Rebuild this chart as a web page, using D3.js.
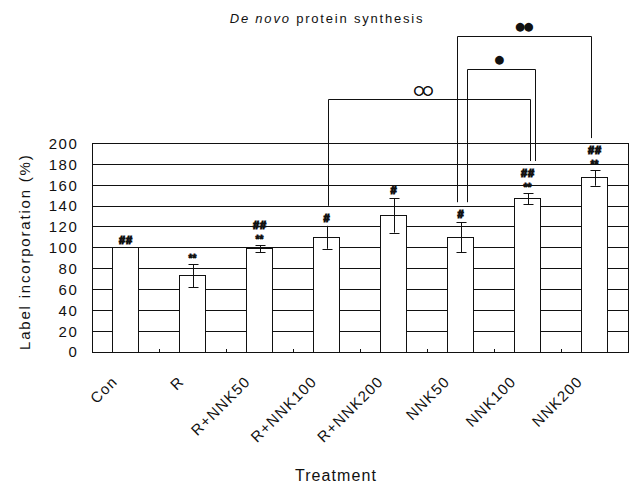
<!DOCTYPE html>
<html><head><meta charset="utf-8">
<script src="https://cdn.jsdelivr.net/npm/d3@7"></script>
<style>body{margin:0;background:#fff} svg{display:block}</style>
</head><body>
<script>
// ---- data ----
const categories = ["Con","R","R+NNK50","R+NNK100","R+NNK200","NNK50","NNK100","NNK200"];
const means      = [100, 73, 99, 110, 131, 110, 147, 167];
const errors     = [0, 11, 3.5, 11, 16.5, 14.5, 5.5, 7.5];
const marksLower = ["", "**", "**", "", "", "", "**", "**"];
const marksUpper = ["##", "", "##", "#", "#", "#", "##", "##"];
const yTicks     = [0,20,40,60,80,100,120,140,160,180,200];
const bracketFrom  = ["R+NNK100", "NNK50", "NNK50"];
const bracketTo    = ["NNK100", "NNK100", "NNK200"];
const bracketLevel = [243, 271, 303];
const bracketLabel = ["○○", "●", "●●"];
const titleItalic = "De novo";
const titleRest = " protein synthesis";
const yTitle = "Label incorporation (%)";
const xTitle = "Treatment";

// ---- layout ----
const W = 631, H = 486;
const L = 92, R = 628, T = 143.5, B = 352;
const font = "'Liberation Sans', Arial, sans-serif";
const ink = "#111";

const svg = d3.select("body").append("svg").attr("width", W).attr("height", H)
  .style("font-family", font);

const x = d3.scaleBand().domain(categories).range([L, R]).paddingInner(0.6).paddingOuter(0.3);
const y = d3.scaleLinear().domain([0, 200]).range([B, T]);
const xLab = d3.scalePoint().domain(categories).range([118.5, 583.5]);
const cx = c => x(c) + x.bandwidth() / 2;

// gridlines
svg.append("g").selectAll("line").data(yTicks.filter(d => d > 0)).join("line")
  .attr("x1", L).attr("x2", R).attr("y1", d => y(d)).attr("y2", d => y(d))
  .attr("stroke", ink).attr("stroke-width", 1).attr("shape-rendering", "crispEdges");
// border
svg.append("rect").attr("x", L).attr("y", y(200)).attr("width", R - L).attr("height", y(0) - y(200))
  .attr("fill", "none").attr("stroke", ink).attr("stroke-width", 1).attr("shape-rendering", "crispEdges");

// x ticks at band boundaries (inside, pointing up)
svg.append("g").selectAll("line").data(categories.slice(1)).join("line")
  .attr("x1", d => x(d) - x.step() * x.paddingInner() / 2).attr("x2", d => x(d) - x.step() * x.paddingInner() / 2)
  .attr("y1", y(0)).attr("y2", y(0) - 3)
  .attr("stroke", ink).attr("shape-rendering", "crispEdges");

// bars
const rows = categories.map((c, i) => ({c, v: means[i], e: errors[i], lo: marksLower[i], up: marksUpper[i]}));
svg.append("g").selectAll("rect").data(rows).join("rect")
  .attr("x", d => x(d.c)).attr("width", x.bandwidth())
  .attr("y", d => y(d.v)).attr("height", d => y(0) - y(d.v))
  .attr("fill", "#fff").attr("stroke", ink).attr("stroke-width", 1).attr("shape-rendering", "crispEdges");

// error bars
const eg = svg.append("g").attr("stroke", ink).attr("stroke-width", 1);
rows.filter(d => d.e > 0).forEach(d => {
  const xc = Math.round(cx(d.c)) + 0.5;
  eg.append("line").attr("x1", xc).attr("x2", xc).attr("y1", y(d.v + d.e)).attr("y2", y(d.v - d.e));
  [d.v + d.e, d.v - d.e].forEach(v => eg.append("line").attr("x1", xc - 5).attr("x2", xc + 5)
    .attr("y1", Math.round(y(v)) + 0.5).attr("y2", Math.round(y(v)) + 0.5));
});

// significance marks
const errTop = d => y(d.v + d.e);
rows.forEach(d => {
  let row = 0;
  const base = errTop(d) - 8;
  if (d.lo) {
    svg.append("text").attr("x", cx(d.c)).attr("y", base + 5.7).attr("text-anchor", "middle")
      .attr("font-size", 10).attr("font-weight", "bold").attr("fill", ink)
      .attr("stroke", ink).attr("stroke-width", 0.8).text(d.lo);
    row++;
  }
  if (d.up) {
    svg.append("text").attr("x", cx(d.c) + 0.5).attr("y", base - row * 12 + 3.9).attr("text-anchor", "middle")
      .attr("font-size", 11).attr("font-weight", "bold").attr("letter-spacing", 1).attr("fill", ink)
      .attr("stroke", ink).attr("stroke-width", 1.1).text(d.up);
  }
  d.nRows = (d.lo ? 1 : 0) + (d.up ? 1 : 0);
});

// brackets
const legShift = [[1, 2], [6, 7.5], [-4, -4]];
const labelShift = [-7, -3, -1];
const byCat = Object.fromEntries(rows.map(d => [d.c, d]));
const legBottom = d => errTop(d) - (8 + 12 * d.nRows);
const bg = svg.append("g").attr("stroke", ink).attr("stroke-width", 1).attr("fill", "none");
bracketFrom.forEach((f, i) => {
  const a = byCat[f], b = byCat[bracketTo[i]];
  const x1 = Math.round(cx(f) + legShift[i][0]) + 0.5, x2 = Math.round(cx(bracketTo[i]) + legShift[i][1]) + 0.5;
  const yl = Math.round(y(bracketLevel[i])) + 0.5;
  bg.append("path").attr("d", `M${x1},${legBottom(a)}V${yl}H${x2}V${legBottom(b)}`);
  const hollow = bracketLabel[i].includes("○");
  svg.append("text").attr("x", (x1 + x2) / 2 + labelShift[i]).attr("y", yl - (hollow ? 6 : 7))
    .attr("text-anchor", "middle").attr("font-family", "'DejaVu Sans', sans-serif")
    .attr("font-size", hollow ? 12 : 11.5).attr("fill", ink).attr("letter-spacing", -1.5)
    .attr("stroke", hollow ? ink : "none").attr("stroke-width", 0.7)
    .text(bracketLabel[i]);
});

// y tick labels
svg.append("g").selectAll("text").data(yTicks).join("text")
  .attr("x", 78.5).attr("y", d => y(d)).attr("dy", "0.36em").attr("text-anchor", "end")
  .attr("font-size", 15).attr("letter-spacing", 1.6).attr("fill", ink).text(d => d);

// x labels
svg.append("g").selectAll("text").data(categories).join("text")
  .attr("transform", d => `translate(${xLab(d)},382.5) rotate(-45)`)
  .attr("text-anchor", "end").attr("font-size", 15).attr("letter-spacing", 1.2).attr("fill", ink).text(d => d);

// axis titles
svg.append("text").attr("transform", `translate(30,${(T + B) / 2 + 4}) rotate(-90)`)
  .attr("text-anchor", "middle").attr("font-size", 15).attr("letter-spacing", 1.8).attr("fill", ink).text(yTitle);
svg.append("text").attr("x", 336).attr("y", 481).attr("text-anchor", "middle")
  .attr("font-size", 16).attr("letter-spacing", 1.1).attr("fill", ink).text(xTitle);

// title
const t = svg.append("text").attr("x", 327).attr("y", 23).attr("text-anchor", "middle")
  .attr("font-size", 13).attr("letter-spacing", 1.8).attr("fill", ink);
t.append("tspan").attr("font-style", "italic").text(titleItalic);
t.append("tspan").text(titleRest);
</script>
</body></html>
